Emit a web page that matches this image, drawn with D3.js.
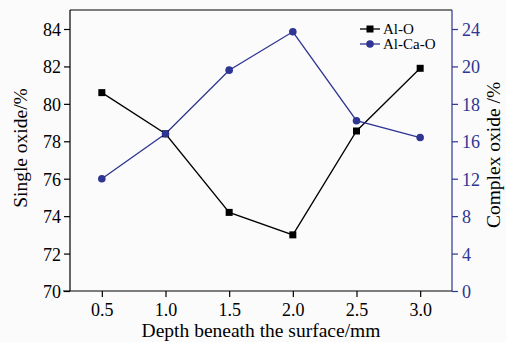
<!DOCTYPE html>
<html>
<head>
<meta charset="utf-8">
<script src="https://cdn.jsdelivr.net/npm/d3@7"></script>
<style>
  body { margin: 0; background: #fbfbfb; }
  text { font-family: "Liberation Serif", "Times New Roman", serif; }
</style>
</head>
<body>
<script>
const depth = [0.5, 1.0, 1.5, 2.0, 2.5, 3.0];
const alO = [80.6, 78.4, 74.2, 73.0, 78.55, 81.9];
const alCaO = [12.0, 16.4, 19.8, 23.7, 17.1, 16.2];
const xTicks = [0.5, 1.0, 1.5, 2.0, 2.5, 3.0];
const leftTicks = [70, 72, 74, 76, 78, 80, 82, 84];
const rightTicks = [0, 4, 8, 12, 16, 18, 20, 24];

const width = 506, height = 342;
const blue = "#2e3592";
const m = { left: 70, right: 452, top: 10, bottom: 291 };

const svg = d3.select("body").append("svg")
    .attr("width", width)
    .attr("height", height);

const x = d3.scaleLinear().domain([0.25, 3.25]).range([m.left, m.right]);
const yL = d3.scaleLinear().domain([70, 84]).range([291, 29]);
// right axis labels are unevenly spaced in the source, so map them piecewise
const yR = d3.scaleLinear()
    .domain(rightTicks)
    .range(rightTicks.map((d, i) => yL(leftTicks[i])));

// frame
svg.append("line").attr("x1", m.left).attr("x2", m.right)
    .attr("y1", m.top).attr("y2", m.top).attr("stroke", "#000").attr("stroke-width", 1.2);

const fmt = d3.format(".1f");

const gx = svg.append("g").attr("transform", `translate(0,${m.bottom})`)
    .call(d3.axisBottom(x).tickValues(xTicks).tickFormat(fmt).tickSizeOuter(0).tickSize(6).tickPadding(6));
gx.select(".domain").attr("d", `M${m.left - 7},0H${m.right}`);

const gl = svg.append("g").attr("transform", `translate(${m.left},0)`)
    .call(d3.axisLeft(yL).tickValues(leftTicks).tickSizeOuter(0).tickSize(6).tickPadding(3));
gl.select(".domain").attr("d", `M0,${m.top}V${m.bottom}`);

const gr = svg.append("g").attr("transform", `translate(${m.right},0)`)
    .call(d3.axisRight(yR).tickValues(rightTicks).tickSizeOuter(0).tickSize(6).tickPadding(4));
gr.select(".domain").attr("d", `M0,${m.top}V${m.bottom}`);
gr.selectAll(".domain, line").attr("stroke", blue);
gr.selectAll("text").attr("fill", blue);

[gx, gl, gr].forEach(g => {
    g.selectAll(".domain, line").attr("stroke-width", 1.2);
    g.selectAll("text").style("font-family", "Liberation Serif").style("font-size", "18px");
});
gl.selectAll(".tick text").attr("dy", "0.36em");
gr.selectAll(".tick text").attr("dy", "0.36em");

// lines
const lineL = d3.line().x((d, i) => x(depth[i])).y(d => yL(d));
const lineR = d3.line().x((d, i) => x(depth[i])).y(d => yR(d));

svg.append("path").datum(alO).attr("d", lineL)
    .attr("fill", "none").attr("stroke", "#000").attr("stroke-width", 1.3);
svg.append("path").datum(alCaO).attr("d", lineR)
    .attr("fill", "none").attr("stroke", blue).attr("stroke-width", 1.3);

svg.selectAll(".sq").data(alO).enter().append("rect")
    .attr("x", (d, i) => x(depth[i]) - 3.5).attr("y", d => yL(d) - 3.5)
    .attr("width", 7).attr("height", 7).attr("fill", "#000");
svg.selectAll(".ci").data(alCaO).enter().append("circle")
    .attr("cx", (d, i) => x(depth[i])).attr("cy", d => yR(d))
    .attr("r", 3.8).attr("fill", blue);

// legend
const leg = svg.append("g").attr("transform", "translate(360,29)");
leg.append("line").attr("x1", 0).attr("x2", 20).attr("stroke", "#000").attr("stroke-width", 1.3);
leg.append("rect").attr("x", 6.5).attr("y", -3.5).attr("width", 7).attr("height", 7);
leg.append("text").attr("x", 23).attr("dy", "0.35em").style("font-size", "15px").text("Al-O");
leg.append("line").attr("x1", 0).attr("x2", 20).attr("y1", 15).attr("y2", 15).attr("stroke", blue).attr("stroke-width", 1.3);
leg.append("circle").attr("cx", 10).attr("cy", 15).attr("r", 3.8).attr("fill", blue);
leg.append("text").attr("x", 23).attr("y", 15).attr("dy", "0.35em").style("font-size", "15px").text("Al-Ca-O");

// titles
svg.append("text").attr("x", 261).attr("y", 337)
    .attr("text-anchor", "middle").style("font-size", "19.5px").text("Depth beneath the surface/mm");
svg.append("text").attr("transform", "translate(27,148) rotate(-90)")
    .attr("text-anchor", "middle").style("font-size", "19.5px").text("Single oxide/%");
svg.append("text").attr("transform", "translate(500,155) rotate(-90)")
    .attr("text-anchor", "middle").style("font-size", "19.5px").text("Complex oxide /%");
</script>
</body>
</html>
